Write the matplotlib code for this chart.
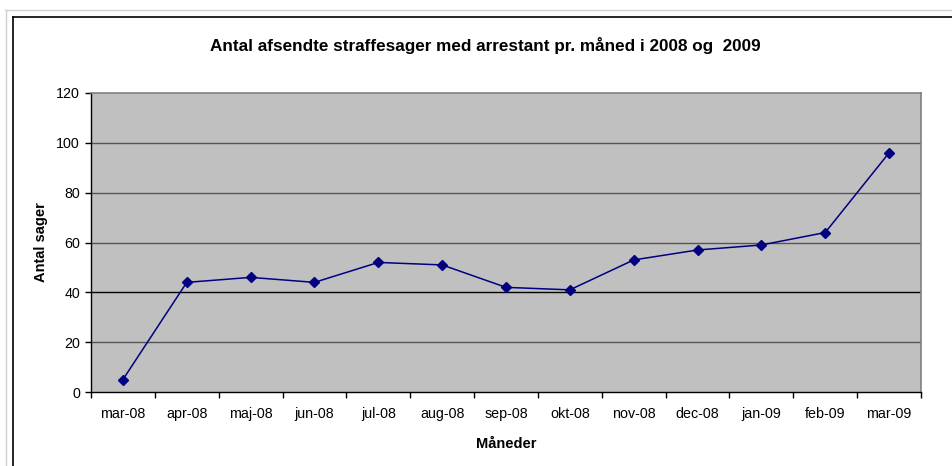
import matplotlib
matplotlib.use("Agg")
import matplotlib.pyplot as plt
from matplotlib.lines import Line2D
import numpy as np

plt.rcParams['font.family'] = ['Liberation Sans', 'DejaVu Sans']

months = ["mar-08", "apr-08", "maj-08", "jun-08", "jul-08", "aug-08", "sep-08",
          "okt-08", "nov-08", "dec-08", "jan-09", "feb-09", "mar-09"]
values = [5, 44, 46, 44, 52, 51, 42, 41, 53, 57, 59, 64, 96]
yticks = [0, 20, 40, 60, 80, 100, 120]

W, H = 952, 466
fig = plt.figure(figsize=(W / 100, H / 100), dpi=100)
fig.patch.set_facecolor('white')

# outer decorations (page border / chart frame)
def px(x, y):
    return x / W, 1 - y / H

for (x0, y0, x1, y1, c, lw) in [
    (5, 10, W, 10, '#d0d0d0', 1.0),
    (6, 10, 6, H, '#d0d0d0', 1.0),
    (12.5, 17, W, 17, 'black', 1.2),
    (12.5, 17, 12.5, H, 'black', 1.2),
]:
    a, b = px(x0, y0)
    c2, d = px(x1, y1)
    fig.add_artist(Line2D([a, c2], [b, d], color=c, lw=lw, transform=fig.transFigure))

left, right, top, bottom = 91, 921, 93, 392
ax = fig.add_axes([left / W, 1 - bottom / H, (right - left) / W, (bottom - top) / H])
ax.set_facecolor('#c0c0c0')

x = np.arange(len(months))
ax.set_xlim(-0.5, len(months) - 0.5)
ax.set_ylim(0, 120)

for yv in yticks[1:-1]:
    ax.axhline(yv, color='black' if yv == 40 else '#555555', lw=1.0, zorder=1)

ax.plot(x, values, color='#000080', lw=1.1, marker='D', markersize=5,
        markerfacecolor='#000080', markeredgecolor='#000080', zorder=3)

for s in ['top', 'right']:
    ax.spines[s].set_color('#808080')
    ax.spines[s].set_linewidth(1.2)
ax.spines['left'].set_color('black')
ax.spines['bottom'].set_color('black')
ax.spines['left'].set_linewidth(1.0)
ax.spines['bottom'].set_linewidth(1.0)

ax.set_yticks(yticks)
ax.set_yticklabels([str(v) for v in yticks], fontsize=10.3)
ax.tick_params(axis='y', direction='out', length=4, width=1, pad=4)

ax.set_xticks(x)
ax.set_xticklabels(months, fontsize=10.3)
ax.set_xticks(np.arange(-0.5, len(months)), minor=True)
ax.tick_params(axis='x', which='major', length=0, pad=11)
ax.tick_params(axis='x', which='minor', direction='out', length=4, width=1)

ax.set_title("Antal afsendte straffesager med arrestant pr. måned i 2008 og  2009",
             fontsize=12.3, fontweight='bold', pad=30, x=0.475)
ax.set_xlabel("Måneder", fontsize=10.5, fontweight='bold', labelpad=11)
ax.set_ylabel("Antal sager", fontsize=10.5, fontweight='bold', labelpad=6)

fig.savefig("out.png", dpi=100)
